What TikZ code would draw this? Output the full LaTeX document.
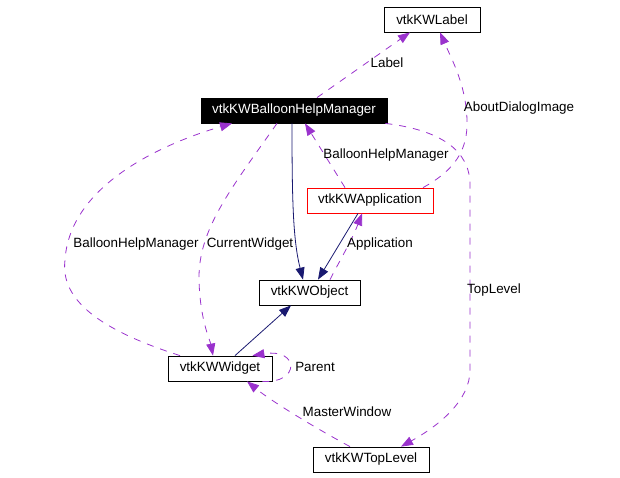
\documentclass[tikz,border=0pt]{standalone}
\usepackage{fontspec}
\setmainfont{Liberation Sans}
\usetikzlibrary{arrows.meta}
\definecolor{relpurple}{HTML}{9A32CD}
\definecolor{basenavy}{HTML}{191970}

\begin{document}
\begin{tikzpicture}[
        x=1pt, y=-1pt,
        cls/.style={draw, line width=0.8pt, minimum height=25pt, inner sep=0pt,
            font=\fontsize{13.4}{15}\selectfont},
        usage/.style={relpurple, line width=0.8pt, dash pattern=on 7pt off 7pt,
            -{Triangle[length=12pt, width=9pt]}},
        inherit/.style={basenavy, line width=0.8pt,
            -{Triangle[length=12pt, width=9pt]}},
        lbl/.style={font=\fontsize{13.4}{15}\selectfont, inner sep=0pt}
    ]
        \useasboundingbox (0,0) rectangle (620,477);

        % Classes
        \node[cls, minimum width=96pt] (label) at (432,19.5) {vtkKWLabel};
        \node[cls, minimum width=186pt, fill=black, text=white] (bhm) at (294,110.5) {vtkKWBalloonHelpManager};
        \node[cls, minimum width=126pt, draw=red] (app) at (370,200.5) {vtkKWApplication};
        \node[cls, minimum width=101pt] (obj) at (309.5,292.5) {vtkKWObject};
        \node[cls, minimum width=104pt] (widget) at (220,368.5) {vtkKWWidget};
        \node[cls, minimum width=116pt] (toplevel) at (371,459.5) {vtkKWTopLevel};

        % Inheritance
        \draw[inherit] ([xshift=-2pt]bhm.south) .. controls (292,200) and (293,240) .. ([xshift=-6.5pt]obj.north);
        \draw[inherit] ([xshift=-12pt]app.south) -- ([xshift=8.5pt]obj.north);
        \draw[inherit] ([xshift=15pt]widget.north) -- ([xshift=-18.5pt]obj.south);

        % Members
        \draw[usage] ([xshift=23pt]bhm.north) -- ([xshift=-22pt]label.south);
        \draw[usage] ([xshift=53pt]app.north) .. controls (455,170) and (468,150) .. (467,120)
            .. controls (466,85) and (452,60) .. ([xshift=8pt]label.south);
        \draw[usage] ([xshift=-25pt]app.north) -- ([xshift=11pt]bhm.south);
        \draw[usage] ([xshift=20.5pt]obj.north) .. controls (340,260) and (352,240) .. ([xshift=-8pt]app.south);
        \draw[usage] ([xshift=-40pt]widget.north) .. controls (100,330) and (60,300) .. (65,260)
            .. controls (70,180) and (175,140) .. ([xshift=-62pt]bhm.south);
        \draw[usage] ([xshift=-17pt]bhm.south) .. controls (230,190) and (198,230) .. (199,280)
            .. controls (200,320) and (210,340) .. ([xshift=-7pt]widget.north);
        \draw[usage] ([xshift=-10pt]widget.south east) .. controls (300,384) and (300,348) .. ([xshift=-20pt]widget.north east);
        \draw[usage] ([xshift=-21pt]toplevel.north) .. controls (310,425) and (270,400) .. ([xshift=27pt]widget.south);
        \draw[usage] ([xshift=-2pt]bhm.south east) .. controls (440,130) and (470,150) .. (470,185)
            -- (470,370) .. controls (470,400) and (440,425) .. ([xshift=30pt]toplevel.north);

        % Member names
        \node[lbl] (labelname) at (387,63) {Label};
        \node[lbl] (dialogname) at (519,108) {AboutDialogImage};
        \node[lbl] (bhmname) at (386,155) {BalloonHelpManager};
        \node[lbl] (appname) at (380,244) {Application};
        \node[lbl] (widgetbhmname) at (136,244) {BalloonHelpManager};
        \node[lbl] (currentname) at (250,244) {CurrentWidget};
        \node[lbl] (parentname) at (315,367) {Parent};
        \node[lbl] (mastername) at (347,412) {MasterWindow};
        \node[lbl] (toplevelname) at (494,290) {TopLevel};
    \end{tikzpicture}
\end{document}
